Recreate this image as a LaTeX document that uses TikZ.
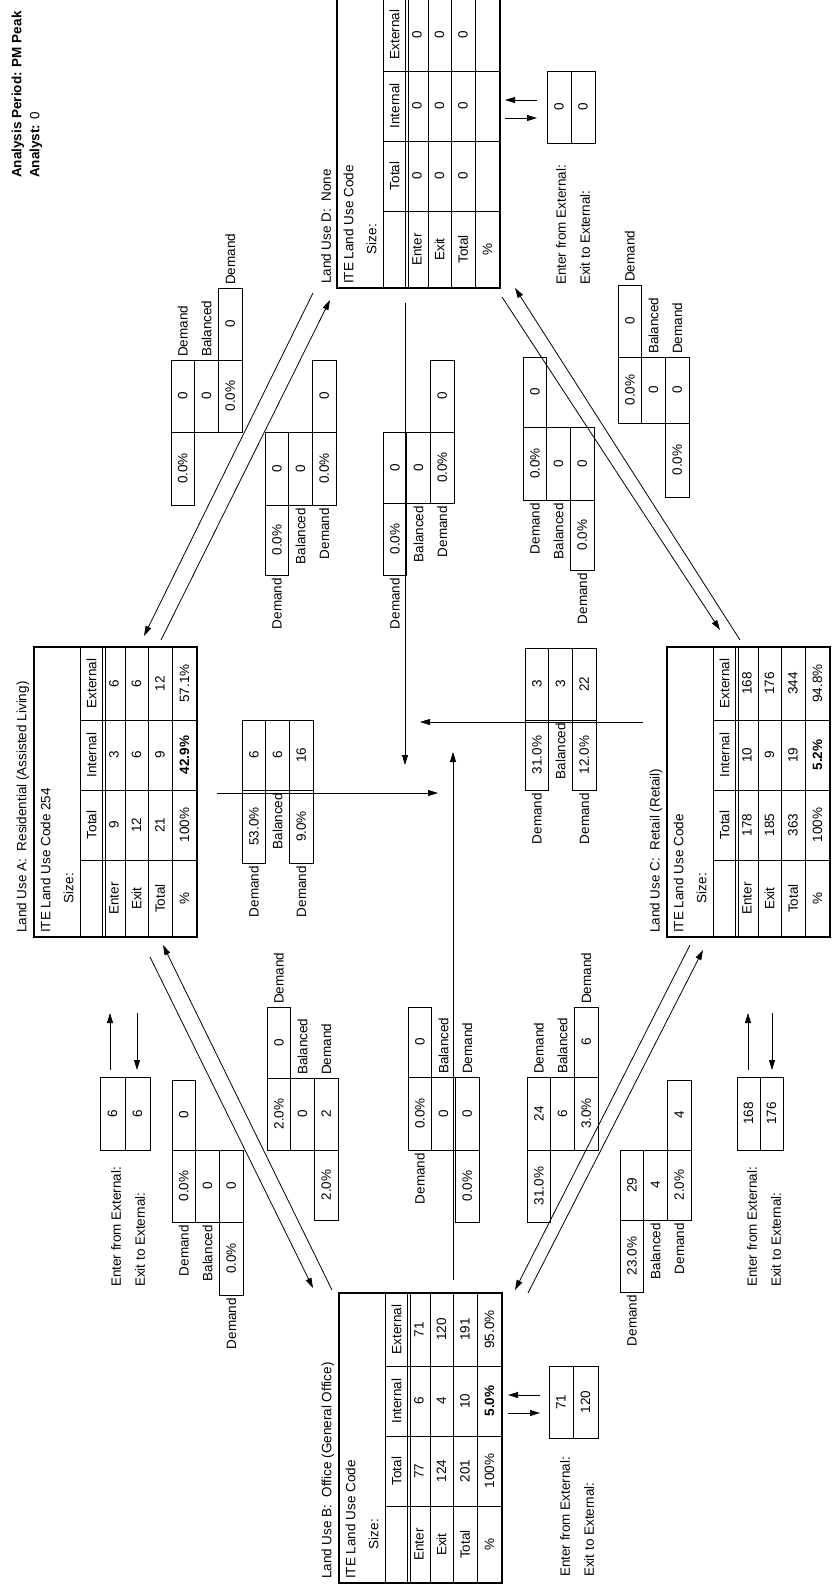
\documentclass[tikz,border=0pt]{standalone}
\usepackage{fontspec}
\setmainfont{Liberation Sans}
\usetikzlibrary{arrows.meta}
\newcommand\LUframe[3]{%
  \draw[bord] (0,0) rectangle (163,290);
  \draw[ln] (46,0)--(46,290) (91,0)--(91,290) (114,0)--(114,290) (138,0)--(138,290);
  \draw[ln] (68,0)--(68,290) (71,0)--(71,290);
  \draw[ln] (46,73)--(163,73) (46,143)--(163,143) (46,213)--(163,213);
  \node[rt,anchor=west] (#1t) at (-11,286) {#2};
  \node[rt,anchor=west] (#1i) at (11.5,286) {#3};
  \node[rt,anchor=east] (#1s) at (34.5,226) {Size:};
  \node[rt] (#1h1) at (57.5,178) {Total};
  \node[rt] (#1h2) at (57.5,108) {Internal};
  \node[rt] (#1h3) at (57.5,36.5) {External};
}
\newcommand\LUrow[5]{%
  \node[rt] at (#1,251.5) {#2};
  \node[rt] at (#1,178) {#3};
  \node[rt] at (#1,108) {#4};
  \node[rt] at (#1,36.5) {#5};}
\newcommand\fc[4]{\draw[ln] (#1,#2) rectangle ({#1+23.7},#3); \node[rt] at ({#1+11.85},{(#2+#3)/2}) {#4};}
\newcommand\fl[4]{\node[rt,anchor=#4] at ({#1+11.85},#2) {#3};}
\newcommand\extbox[7]{% #1 x0, #2 x1, #3 x2, #4 ytop, #5 ybot, #6 enter, #7 exit
  \draw[ln] (#1,#4) rectangle (#2,#5); \draw[ln] (#2,#4) rectangle (#3,#5);
  \node[rt] at ({(#1+#2)/2},{(#4+#5)/2}) {#6};
  \node[rt] at ({(#2+#3)/2},{(#4+#5)/2}) {#7};}
\begin{document}
\begin{tikzpicture}[x=1pt,y=-1pt,
  every node/.style={font=\fontsize{13.5}{15}\selectfont, inner sep=0pt},
  rt/.style={rotate=90},
  ln/.style={line width=0.8pt},
  bord/.style={line width=1.8pt},
  arr/.style={line width=0.8pt,-{Triangle[length=10pt,width=6pt]}},
]
\useasboundingbox (0,0) rectangle (833,1592);
\fill[white] (0,0) rectangle (833,1592);

% header
\node[rt,anchor=west,font=\fontsize{13.5}{15}\selectfont\bfseries] (hdr1) at (18,178) {Analysis Period: PM Peak};
\node[rt,anchor=west] (hdr2) at (36,178) {\textbf{Analyst:} 0};

% ---------- tables ----------
\begin{scope}[shift={(34,647)}]
 \LUframe{A}{Land Use A:\ \ Residential (Assisted Living)}{ITE Land Use Code 254}
 \LUrow{80}{Enter}{9}{3}{6}
 \LUrow{102.5}{Exit}{12}{6}{6}
 \LUrow{126}{Total}{21}{9}{12}
 \LUrow{150.5}{\%}{100\%}{\textbf{42.9\%}}{57.1\%}
\end{scope}
\begin{scope}[shift={(339,1293)}]
 \LUframe{B}{Land Use B:\ \ Office (General Office)}{ITE Land Use Code}
 \LUrow{80}{Enter}{77}{6}{71}
 \LUrow{102.5}{Exit}{124}{4}{120}
 \LUrow{126}{Total}{201}{10}{191}
 \LUrow{150.5}{\%}{100\%}{\textbf{5.0\%}}{95.0\%}
\end{scope}
\begin{scope}[shift={(667,647)}]
 \LUframe{C}{Land Use C:\ \ Retail (Retail)}{ITE Land Use Code}
 \LUrow{80}{Enter}{178}{10}{168}
 \LUrow{102.5}{Exit}{185}{9}{176}
 \LUrow{126}{Total}{363}{19}{344}
 \LUrow{150.5}{\%}{100\%}{\textbf{5.2\%}}{94.8\%}
\end{scope}
\begin{scope}[shift={(337,-2)}]
 \LUframe{D}{Land Use D:\ \ None}{ITE Land Use Code}
 \LUrow{80}{Enter}{0}{0}{0}
 \LUrow{102.5}{Exit}{0}{0}{0}
 \LUrow{126}{Total}{0}{0}{0}
 \LUrow{150.5}{\%}{}{}{}
\end{scope}

% ---------- external boxes ----------
\extbox{100}{125}{150}{1077}{1150}{6}{6}
\node[rt,anchor=west] (Aen) at (116,1287) {Enter from External:};
\node[rt,anchor=west] (Aex) at (140,1287) {Exit to External:};
\draw[arr] (110,1070) -- (110,1013);
\draw[arr] (137,1013) -- (137,1070);

\extbox{737}{760}{783}{1077}{1150}{168}{176}
\node[rt,anchor=west] (Cen) at (752,1287) {Enter from External:};
\node[rt,anchor=west] (Cex) at (776,1287) {Exit to External:};
\draw[arr] (748,1070) -- (748,1013);
\draw[arr] (772,1013) -- (772,1070);

\extbox{547}{571}{595}{71}{143}{0}{0}
\node[rt,anchor=west] (Den) at (561,285) {Enter from External:};
\node[rt,anchor=west] (Dex) at (585,285) {Exit to External:};
\draw[arr] (537,100) -- (505,100);
\draw[arr] (505,118) -- (537,118);

\extbox{549}{573}{598}{1366}{1438}{71}{120}
\node[rt,anchor=west] (Ben) at (565,1577) {Enter from External:};
\node[rt,anchor=west] (Bex) at (589,1577) {Exit to External:};
\draw[arr] (540,1395) -- (508,1395);
\draw[arr] (508,1413) -- (540,1413);

% ---------- links ----------
\coordinate (adA1) at (161,640); \coordinate (adD1) at (330,300);
\coordinate (adD2) at (313,293); \coordinate (adA2) at (144,636);
\draw[arr] (adA1) -- (adD1); \draw[arr] (adD2) -- (adA2);
\coordinate (abB1) at (332,1290); \coordinate (abA1) at (163,945);
\coordinate (abA2) at (150,957); \coordinate (abB2) at (313,1288);
\draw[arr] (abB1) -- (abA1); \draw[arr] (abA2) -- (abB2);
\coordinate (dcD1) at (502,297); \coordinate (dcC1) at (720,630);
\coordinate (dcC2) at (740,640); \coordinate (dcD2) at (515,288);
\draw[arr] (dcD1) -- (dcC1); \draw[arr] (dcC2) -- (dcD2);
\coordinate (bcC1) at (690,945); \coordinate (bcB1) at (515,1290);
\coordinate (bcB2) at (528,1293); \coordinate (bcC2) at (703,950);
\draw[arr] (bcC1) -- (bcB1); \draw[arr] (bcB2) -- (bcC2);
% center
\coordinate (acA) at (217,793); \coordinate (acX) at (438,793);
\coordinate (caC) at (643,722); \coordinate (caX) at (420,722);
\coordinate (dbD) at (405,303); \coordinate (dbX) at (405,765);
\coordinate (bdB) at (453,1280); \coordinate (bdX) at (453,752);
\draw[arr] (acA) -- (acX); \draw[arr] (caC) -- (caX);
\draw[arr] (dbD) -- (dbX); \draw[arr] (bdB) -- (bdX);

% ---------- flow boxes ----------
% AD1
\fc{171}{432}{505}{0.0\%}\fc{171}{360}{432}{0}\fl{171}{357}{Demand}{west}
\fc{194.7}{360}{432}{0}\fl{194.7}{357}{Balanced}{west}
\fc{218.4}{360}{432}{0.0\%}\fc{218.4}{288}{360}{0}\fl{218.4}{285}{Demand}{west}
% AD2
\fl{265}{578}{Demand}{east}\fc{265}{505}{575}{0.0\%}\fc{265}{432}{505}{0}
\fl{288.7}{508}{Balanced}{east}\fc{288.7}{432}{505}{0}
\fl{312.4}{508}{Demand}{east}\fc{312.4}{432}{505}{0.0\%}\fc{312.4}{360}{432}{0}
% DB1
\fl{383}{578}{Demand}{east}\fc{383}{503}{575}{0.0\%}\fc{383}{432}{503}{0}
\fl{406.7}{506}{Balanced}{east}\fc{406.7}{432}{503}{0}
\fl{430.4}{506}{Demand}{east}\fc{430.4}{432}{503}{0.0\%}\fc{430.4}{360}{432}{0}
% DC1
\fl{523}{503}{Demand}{east}\fc{523}{427}{500}{0.0\%}\fc{523}{357}{427}{0}
\fl{546.7}{503}{Balanced}{east}\fc{546.7}{427}{500}{0}
\fl{570.4}{573}{Demand}{east}\fc{570.4}{500}{570}{0.0\%}\fc{570.4}{427}{500}{0}
% DC2
\fc{618}{357}{423}{0.0\%}\fc{618}{285}{357}{0}\fl{618}{282}{Demand}{west}
\fc{641.7}{357}{423}{0}\fl{641.7}{354}{Balanced}{west}
\fc{665.4}{423}{497}{0.0\%}\fc{665.4}{357}{423}{0}\fl{665.4}{354}{Demand}{west}
% AC
\fl{242}{866}{Demand}{east}\fc{242}{790}{863}{53.0\%}\fc{242}{720}{790}{6}
\fl{265.7}{793}{Balanced}{east}\fc{265.7}{720}{790}{6}
\fl{289.4}{866}{Demand}{east}\fc{289.4}{790}{863}{9.0\%}\fc{289.4}{720}{790}{16}
% CA
\fl{525}{793}{Demand}{east}\fc{525}{720}{790}{31.0\%}\fc{525}{648}{720}{3}
\fl{548.7}{723}{Balanced}{east}\fc{548.7}{648}{720}{3}
\fl{572.4}{793}{Demand}{east}\fc{572.4}{720}{790}{12.0\%}\fc{572.4}{648}{720}{22}
% BD
\fl{408}{1153}{Demand}{east}\fc{408}{1077}{1150}{0.0\%}\fc{408}{1007}{1077}{0}
\fc{431.7}{1077}{1150}{0}\fl{431.7}{1074}{Balanced}{west}
\fc{455.4}{1150}{1222}{0.0\%}\fc{455.4}{1077}{1150}{0}\fl{455.4}{1074}{Demand}{west}
% AB1
\fl{172}{1225}{Demand}{east}\fc{172}{1150}{1222}{0.0\%}\fc{172}{1080}{1150}{0}
\fl{195.7}{1225}{Balanced}{east}\fc{195.7}{1150}{1222}{0}
\fl{219.4}{1298}{Demand}{east}\fc{219.4}{1222}{1295}{0.0\%}\fc{219.4}{1150}{1222}{0}
% AB2
\fc{267}{1078}{1150}{2.0\%}\fc{267}{1007}{1078}{0}\fl{267}{1004}{Demand}{west}
\fc{290.7}{1078}{1150}{0}\fl{290.7}{1075}{Balanced}{west}
\fc{314.4}{1150}{1220}{2.0\%}\fc{314.4}{1078}{1150}{2}\fl{314.4}{1075}{Demand}{west}
% BC1
\fc{527}{1150}{1222}{31.0\%}\fc{527}{1077}{1150}{24}\fl{527}{1074}{Demand}{west}
\fc{550.7}{1077}{1150}{6}\fl{550.7}{1074}{Balanced}{west}
\fc{574.4}{1077}{1150}{3.0\%}\fc{574.4}{1007}{1077}{6}\fl{574.4}{1004}{Demand}{west}
% BC2
\fl{620}{1295}{Demand}{east}\fc{620}{1220}{1292}{23.0\%}\fc{620}{1150}{1220}{29}
\fl{643.7}{1223}{Balanced}{east}\fc{643.7}{1150}{1220}{4}
\fl{667.4}{1223}{Demand}{east}\fc{667.4}{1150}{1220}{2.0\%}\fc{667.4}{1080}{1150}{4}
\end{tikzpicture}
\end{document}
